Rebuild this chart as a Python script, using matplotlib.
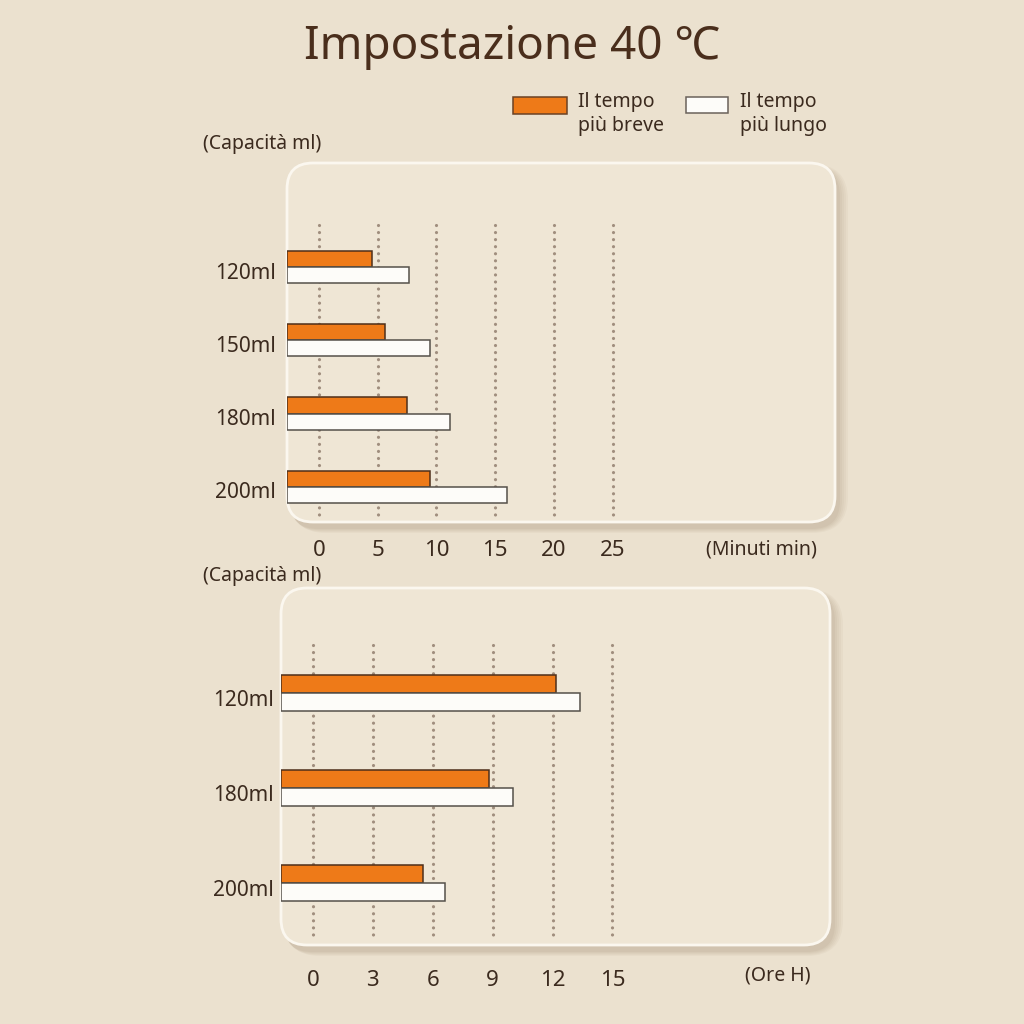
import matplotlib
matplotlib.use("Agg")
import matplotlib.pyplot as plt
from matplotlib.patches import FancyBboxPatch, Rectangle

# --- DATA ---
TITLE = "Impostazione 40 ℃"
SERIES = ["Il tempo\npiù breve", "Il tempo\npiù lungo"]

MIN_CATS = ["120ml", "150ml", "180ml", "200ml"]
MIN_SHORT = [4.5, 5.6, 7.5, 9.5]
MIN_LONG = [7.7, 9.5, 11.2, 16.0]
MIN_TICKS = [0, 5, 10, 15, 20, 25]

ORE_CATS = ["120ml", "180ml", "200ml"]
ORE_SHORT = [12.2, 8.8, 5.5]
ORE_LONG = [13.4, 10.0, 6.6]
ORE_TICKS = [0, 3, 6, 9, 12, 15]

# --- STYLE ---
BG = "#ebe1cf"
PANEL = "#efe6d5"
ORANGE = "#ee7a18"
WHITE = "#fdfcf9"
TEXT = "#3b2a1e"
DOTS = "#a08e7e"
FONT = ["Noto Sans", "DejaVu Sans"]

W = H = 1024
plt.rcParams['font.family'] = FONT


def fx(px):
    return px / W


def fy(py):
    return 1 - py / H


def panel(fig, x0, y0, x1, y1):
    # soft shadow
    for i, a in enumerate([0.05, 0.05, 0.05, 0.06, 0.07]):
        g = 10 - 2 * i
        fig.patches.append(FancyBboxPatch(
            (fx(x0 + 3), fy(y1 + 6 + g * 0.5)), fx(x1 - x0 + g), (y1 - y0 + g) / H,
            boxstyle=f"round,pad=0,rounding_size={(26 + g) / W}",
            transform=fig.transFigure, facecolor="#8a7356", alpha=a,
            edgecolor="none", zorder=-3))
    fig.patches.append(FancyBboxPatch(
        (fx(x0), fy(y1)), fx(x1 - x0), (y1 - y0) / H,
        boxstyle=f"round,pad=0,rounding_size={26 / W}",
        transform=fig.transFigure, facecolor=PANEL,
        edgecolor="#fbf7ef", linewidth=2, zorder=-1))


def chart(fig, box, cats, short, long_, ticks, xlim, ylim, grid_span, bar_h, ypad, xpad):
    x0, y0, x1, y1 = box
    ax = fig.add_axes([fx(x0), fy(y1), fx(x1 - x0), (y1 - y0) / H])
    ax.set_facecolor("none")
    for s in ax.spines.values():
        s.set_visible(False)
    ax.set_xlim(*xlim)
    ax.set_ylim(*ylim)

    # dotted guide lines
    ax.vlines(ticks, grid_span[0], grid_span[1], colors=DOTS, linewidth=2.3,
              linestyles=[(0, (0.01, 2.2))], capstyle="round", zorder=1)

    rows = list(range(len(cats)))
    start = xlim[0]
    ax.barh([r - bar_h / 2 for r in rows], [v - start for v in short], left=start,
            height=bar_h, color=ORANGE, edgecolor="#4e2f1a", linewidth=1.1, zorder=3)
    ax.barh([r + bar_h / 2 for r in rows], [v - start for v in long_], left=start,
            height=bar_h, color=WHITE, edgecolor="#55504a", linewidth=1.1, zorder=3)

    ax.set_yticks([r + 0.05 for r in rows])
    ax.set_yticklabels(cats, fontsize=15, color=TEXT)
    ax.set_xticks(ticks)
    ax.set_xticklabels([str(t) for t in ticks], fontsize=16, color=TEXT)
    ax.tick_params(axis="y", length=0, pad=ypad)
    ax.tick_params(axis="x", length=0, pad=xpad)
    return ax


fig = plt.figure(figsize=(10.24, 10.24), dpi=100)
fig.patch.set_facecolor(BG)

fig.text(0.5, fy(47), TITLE, ha="center", va="center", fontsize=33, color="#4a2e1c")

# legend
fig.patches.append(Rectangle((fx(513), fy(114)), fx(54), 17 / H, transform=fig.transFigure,
                             facecolor=ORANGE, edgecolor="#6a4125", linewidth=1.1))
fig.patches.append(Rectangle((fx(686), fy(113)), fx(42), 16 / H, transform=fig.transFigure,
                             facecolor=WHITE, edgecolor="#6a625a", linewidth=1.1))
fig.text(fx(578), fy(114), SERIES[0], ha="left", va="center", fontsize=14,
         color=TEXT, linespacing=1.3)
fig.text(fx(740), fy(114), SERIES[1], ha="left", va="center", fontsize=14,
         color=TEXT, linespacing=1.3)

# top panel: minutes
panel(fig, 287, 163, 835, 522)
chart(fig, (287, 163, 835, 522), MIN_CATS, MIN_SHORT, MIN_LONG, MIN_TICKS,
      xlim=(-2.7, 43.9), ylim=(3.48, -1.42), grid_span=(-0.57, 3.41),
      bar_h=0.22, ypad=8, xpad=13)
fig.text(fx(203), fy(144), "(Capacità ml)", ha="left", va="center", fontsize=14, color=TEXT)
fig.text(fx(761), fy(549), "(Minuti min)", ha="center", va="center", fontsize=14, color=TEXT)

# bottom panel: hours
panel(fig, 281, 588, 830, 945)
chart(fig, (281, 588, 830, 945), ORE_CATS, ORE_SHORT, ORE_LONG, ORE_TICKS,
      xlim=(-1.6, 25.9), ylim=(2.65, -1.105), grid_span=(-0.505, 2.58),
      bar_h=0.19, ypad=5, xpad=18)
fig.text(fx(203), fy(576), "(Capacità ml)", ha="left", va="center", fontsize=14, color=TEXT)
fig.text(fx(778), fy(976), "(Ore H)", ha="center", va="center", fontsize=14, color=TEXT)

fig.savefig("out.png", dpi=100, facecolor=BG)
